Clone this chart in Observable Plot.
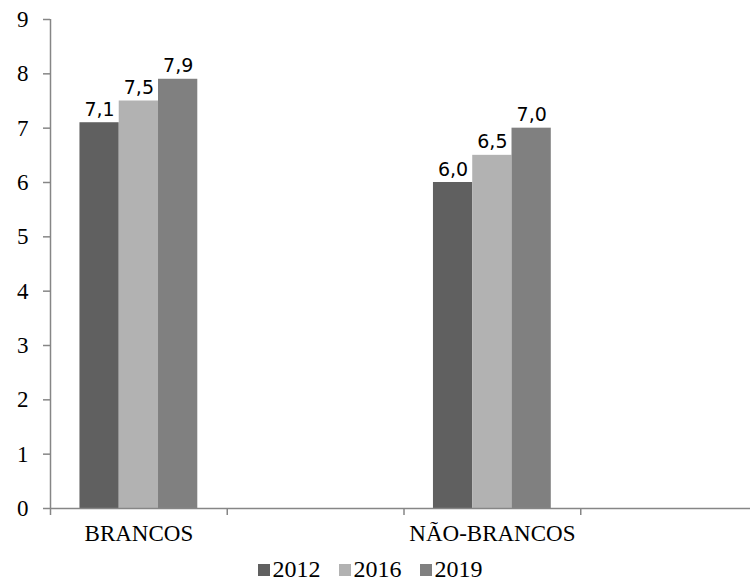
<!DOCTYPE html>
<html>
<head>
<meta charset="utf-8">
<script src="https://cdn.jsdelivr.net/npm/d3@7"></script>
<script src="https://cdn.jsdelivr.net/npm/@observablehq/plot@0.6"></script>
<style>
  html, body { margin: 0; padding: 0; background: #fff; overflow: hidden; width: 750px; height: 584px; }
  #chart { position: relative; width: 757px; }
  #legend { position: absolute; top: 553px; left: 4px; width: 750px; display: flex; justify-content: center; }
  .lg, .lg-swatch, .lg-swatch span { font-family: 'Liberation Serif', 'Times New Roman', serif !important; font-size: 24px !important; color: #000 !important; }
  .lg-swatch { margin-right: 18px !important; }
  .lg-swatch > svg { margin-right: 3px !important; }
</style>
</head>
<body>
<div id="chart"></div>
<div id="legend"></div>
<script>
// ---- data ----
const categories = ["BRANCOS", "", "NÃO-BRANCOS", ""];
const years = ["2012", "2016", "2019"];
const values2012 = [7.1, null, 6.0, null];
const values2016 = [7.5, null, 6.5, null];
const values2019 = [7.9, null, 7.0, null];
const yTicks = [0, 1, 2, 3, 4, 5, 6, 7, 8, 9];
const colors = ["#606060", "#b2b2b2", "#808080"];

// ---- table ----
const series = [values2012, values2016, values2019];
const rows = [];
categories.forEach((c, ci) => {
  years.forEach((y, j) => {
    const v = series[j][ci];
    if (v != null) rows.push({category: c, ci, year: y, j, value: v});
  });
});
// bar slot within category band: 0.75 step outer padding, 3 bars
const slot = (r, k) => r.ci + (0.75 + r.j + k) / 4.5;

const gray = "#868686";
const serif = "'Liberation Serif', 'Times New Roman', serif";

const chart = Plot.plot({
  width: 757,
  height: 550,
  marginLeft: 50,
  marginRight: 0,
  marginTop: 19,
  marginBottom: 42,
  x: {type: "linear", domain: [0, categories.length], axis: null},
  y: {domain: [0, 9], axis: null},
  color: {domain: years, range: colors},
  style: {background: "white", overflow: "visible"},
  marks: [
    Plot.rectY(rows, {x1: r => slot(r, 0), x2: r => slot(r, 1), y1: 0, y2: "value", fill: "year"}),
    Plot.ruleX([0], {y1: 0, y2: 9, stroke: gray, strokeWidth: 1.5}),
    Plot.ruleY([0], {stroke: gray, strokeWidth: 1.5}),
    Plot.axisY({ticks: yTicks, tickSize: 7, tickFormat: () => "", label: null, stroke: gray, strokeWidth: 1.5}),
    Plot.axisY({ticks: yTicks, tickSize: 0, tickPadding: 22, label: null, fontSize: 23, fontFamily: serif, fill: "black", tickFormat: d => String(d)}),
    Plot.axisX({ticks: d3.range(0, categories.length + 1), tickSize: 7, tickFormat: () => "", label: null, stroke: gray, strokeWidth: 1.5}),
    Plot.text(categories.map((c, i) => ({c, i})).filter(d => d.c), {
      x: d => d.i + 0.5, y: 0, text: "c", dy: 25, lineAnchor: "middle",
      fontSize: 23, fontFamily: serif, fill: "black"
    }),
    Plot.text(rows, {
      x: r => (slot(r, 0) + slot(r, 1)) / 2, y: "value",
      text: r => r.value.toFixed(1).replace(".", ","),
      dy: -7, lineAnchor: "bottom",
      fontSize: 19, fontFamily: "'DejaVu Sans', sans-serif", fill: "black"
    })
  ]
});
document.getElementById("chart").appendChild(chart);

const legend = Plot.legend({
  color: {domain: years, range: colors},
  legend: "swatches",
  swatchSize: 12,
  className: "lg"
});
document.getElementById("legend").appendChild(legend);
</script>
</body>
</html>
